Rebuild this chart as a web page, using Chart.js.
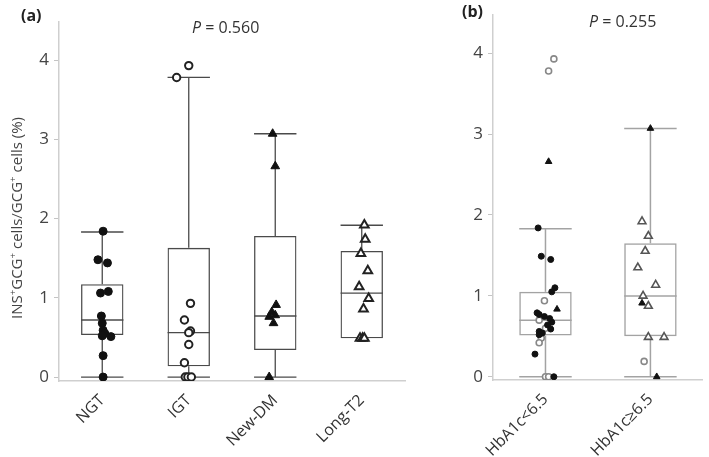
<!DOCTYPE html>
<html>
<head>
<meta charset="utf-8">
<script src="https://cdn.jsdelivr.net/npm/chart.js@4.4.1/dist/chart.umd.min.js"></script>
<style>
  body { margin: 0; background: #fff; width: 709px; height: 457px; overflow: hidden; position: relative; }
  #wrapA { position: absolute; left: 0; top: 0; width: 412px; height: 457px; }
  #wrapB { position: absolute; left: 412px; top: 0; width: 297px; height: 457px; }
</style>
</head>
<body>
<div id="wrapA"><canvas id="chartA"></canvas></div>
<div id="wrapB"><canvas id="chartB"></canvas></div>
<script>
const yTicks = [0, 1, 2, 3, 4]

// panel (a): box summary per group
const groupsA = ['NGT', 'IGT', 'New-DM', 'Long-T2']
const minA = [0, 0, 0, 0.49]
const q1A = [0.53, 0.135, 0.34, 0.49]
const medA = [0.72, 0.56, 0.77, 1.06]
const q3A = [1.17, 1.63, 1.78, 1.59]
const maxA = [1.83, 3.78, 3.07, 1.915]

// panel (a): individual values (jitter = offset in category widths)
const ngtVals = [1.84, 1.48, 1.44, 1.08, 1.06, 0.77, 0.68, 0.59, 0.55, 0.52, 0.51, 0.27, 0]
const ngtJit = [0.01, -0.05, 0.06, 0.07, -0.02, -0.01, 0, 0.01, 0.03, 0, 0.1, 0.01, 0.01]
const igtVals = [3.93, 3.78, 0.93, 0.72, 0.58, 0.56, 0.41, 0.18, 0, 0, 0]
const igtJit = [0, -0.14, 0.02, -0.05, 0.02, 0, 0, -0.05, -0.04, -0.01, 0.03]
const newDmVals = [3.07, 2.66, 0.91, 0.82, 0.78, 0.76, 0.68, 0]
const newDmJit = [-0.03, 0, 0.01, -0.04, 0, -0.07, -0.02, -0.07]
const longT2Vals = [1.92, 1.74, 1.56, 1.34, 1.14, 0.99, 0.86, 0.49, 0.49, 0.49]
const longT2Jit = [0.03, 0.04, -0.01, 0.07, -0.03, 0.08, 0.02, -0.02, 0.01, 0.03]

// panel (b): box summary per group
const groupsB = ['HbA1c<6.5', 'HbA1c≥6.5']
const minB = [0, 0]
const q1B = [0.51, 0.50]
const medB = [0.70, 1.0]
const q3B = [1.05, 1.65]
const maxB = [1.83, 3.07]

// panel (b): individual values
const lowDotVals = [1.84, 1.49, 1.45, 1.10, 1.05, 0.79, 0.77, 0.745, 0.72, 0.675, 0.64, 0.59, 0.56, 0.54, 0.52, 0.28, 0]
const lowDotJit = [-0.07, -0.04, 0.05, 0.09, 0.06, -0.08, -0.06, -0.01, 0.04, 0.06, 0.02, 0.05, -0.06, -0.03, -0.06, -0.1, 0.08]
const lowCircleVals = [3.93, 3.78, 0.94, 0.70, 0.60, 0.48, 0.42, 0, 0]
const lowCircleJit = [0.08, 0.03, -0.01, -0.06, 0, -0.04, -0.06, 0, 0.03]
const lowTriVals = [2.66, 0.835]
const lowTriJit = [0.03, 0.11]
const highOpenTriVals = [1.92, 1.74, 1.555, 1.35, 1.135, 1.0, 0.875, 0.49, 0.49]
const highOpenTriJit = [-0.08, -0.02, -0.05, -0.12, 0.05, -0.07, -0.02, -0.02, 0.13]
const highCircleVals = [0.19]
const highCircleJit = [-0.06]
const highTriVals = [3.07, 0.91, 0]
const highTriJit = [0, -0.08, 0.06]

const FONT = '"Open Sans", "Noto Sans", sans-serif'

function pts(group, vals, jit) {
  return vals.map((v, k) => ({ x: group + jit[k], y: v }))
}

function points(data, style, radius, fill, stroke, width) {
  return {
    type: 'scatter', xAxisID: 'x2', yAxisID: 'y', order: 0, data: data,
    pointStyle: style, pointRadius: radius, pointHoverRadius: radius,
    pointBackgroundColor: fill, pointBorderColor: stroke, pointBorderWidth: width
  }
}

// draws a run of text pieces, pieces with sup=true are raised and smaller
function drawRich(ctx, parts, cx, cy, size, color) {
  let total = 0
  parts.forEach(p => {
    ctx.font = (p.sup ? size * 0.65 : size) + 'px ' + FONT
    p.w = ctx.measureText(p.t).width
    total += p.w
  })
  let x = cx - total / 2
  ctx.fillStyle = color
  ctx.textBaseline = 'alphabetic'
  parts.forEach(p => {
    ctx.font = (p.sup ? size * 0.65 : size) + 'px ' + FONT
    ctx.fillText(p.t, x, cy - (p.sup ? size * 0.42 : 0))
    x += p.w
  })
}

function drawP(ctx, x, y, txt) {
  ctx.fillStyle = '#333'
  ctx.textBaseline = 'alphabetic'
  ctx.font = 'italic 16px ' + FONT
  ctx.fillText('P', x, y)
  const w = ctx.measureText('P').width
  ctx.font = '16px ' + FONT
  ctx.fillText(' = ' + txt, x + w, y)
}

function makeChart(id, o) {
  const boxLines = {
    id: 'boxLines',
    beforeDatasetsDraw(chart) {
      const ctx = chart.ctx, x = chart.scales.x2, y = chart.scales.y
      const seg = (x1, y1, x2, y2) => { ctx.beginPath(); ctx.moveTo(x1, y1); ctx.lineTo(x2, y2); ctx.stroke() }
      ctx.save()
      ctx.strokeStyle = o.line
      ctx.lineWidth = o.lineWidth
      o.labels.forEach((lab, i) => {
        const c = x.getPixelForValue(i)
        const l = x.getPixelForValue(i - o.half)
        const r = x.getPixelForValue(i + o.half)
        seg(c, y.getPixelForValue(o.q3[i]), c, y.getPixelForValue(o.max[i]))
        seg(c, y.getPixelForValue(o.min[i]), c, y.getPixelForValue(o.q1[i]))
        seg(l, y.getPixelForValue(o.max[i]), r, y.getPixelForValue(o.max[i]))
        if (o.min[i] < o.q1[i]) seg(l, y.getPixelForValue(o.min[i]), r, y.getPixelForValue(o.min[i]))
        seg(l, y.getPixelForValue(o.med[i]), r, y.getPixelForValue(o.med[i]))
      })
      ctx.restore()
    }
  }
  const texts = {
    id: 'texts',
    afterDraw(chart) {
      const ctx = chart.ctx
      ctx.save()
      o.draw(ctx)
      ctx.restore()
    }
  }

  return new Chart(document.getElementById(id), {
    type: 'bar',
    data: {
      labels: o.labels,
      datasets: [{
        type: 'bar', xAxisID: 'x', yAxisID: 'y', order: 1, grouped: false,
        data: o.q1.map((v, i) => [v, o.q3[i]]),
        backgroundColor: 'rgba(255,255,255,0)',
        borderColor: o.line, borderWidth: o.lineWidth, borderSkipped: false,
        barPercentage: o.half * 2, categoryPercentage: 1
      }].concat(o.points)
    },
    options: {
      responsive: true,
      maintainAspectRatio: false,
      animation: false,
      layout: { padding: { top: o.top, right: o.right, left: 0, bottom: 0 } },
      plugins: { legend: { display: false }, tooltip: { enabled: false } },
      scales: {
        x: {
          type: 'category', offset: true,
          grid: { display: false },
          border: { color: '#cfcfcf', width: 1.5 },
          ticks: { color: '#333', font: { family: FONT, size: 16 }, minRotation: 45, maxRotation: 45, padding: 2 },
          afterFit: s => { s.height = o.bottom }
        },
        x2: { type: 'linear', display: false, offset: false, min: -0.5, max: o.labels.length - 0.5 },
        y: {
          type: 'linear', min: o.ymin, max: o.ymax,
          afterBuildTicks: s => { s.ticks = yTicks.map(v => ({ value: v })) },
          grid: { drawOnChartArea: false, tickLength: 5, color: '#c4c4c4' },
          border: { color: '#cfcfcf', width: 1.5 },
          ticks: { color: '#444', font: { family: FONT, size: 17 }, padding: 5 },
          afterFit: s => { s.width = o.left }
        }
      }
    },
    plugins: [boxLines, texts]
  })
}

makeChart('chartA', {
  labels: groupsA, min: minA, q1: q1A, med: medA, q3: q3A, max: maxA,
  half: 0.245, line: '#4a4a4a', lineWidth: 1.3,
  top: 22, right: 2, bottom: 76, left: 59, ymin: -0.05, ymax: 4.48,
  points: [
    points(pts(0, ngtVals, ngtJit), 'circle', 4, '#111', '#111', 1),
    points(pts(1, igtVals, igtJit), 'circle', 3.7, '#fff', '#222', 2),
    points(pts(2, newDmVals, newDmJit), 'triangle', 5, '#111', '#111', 1),
    points(pts(3, longT2Vals, longT2Jit), 'triangle', 5, '#fff', '#222', 2)
  ],
  draw(ctx) {
    ctx.fillStyle = '#222'
    ctx.font = 'bold 16px ' + FONT
    ctx.textBaseline = 'alphabetic'
    ctx.fillText('(a)', 21, 21)
    drawP(ctx, 192, 33, '0.560')
    ctx.translate(22, 218)
    ctx.rotate(-Math.PI / 2)
    drawRich(ctx, [
      { t: 'INS' }, { t: '+', sup: true }, { t: 'GCG' }, { t: '+', sup: true },
      { t: ' cells/GCG' }, { t: '+', sup: true }, { t: ' cells (%)' }
    ], 0, 0, 15, '#444')
  }
})

makeChart('chartB', {
  labels: groupsB, min: minB, q1: q1B, med: medB, q3: q3B, max: maxB,
  half: 0.25, line: '#a3a3a3', lineWidth: 1.5,
  top: 15, right: 0, bottom: 77, left: 81, ymin: -0.04, ymax: 4.47,
  points: [
    points(pts(0, lowDotVals, lowDotJit), 'circle', 3, '#111', '#111', 1),
    points(pts(0, lowCircleVals, lowCircleJit), 'circle', 3, '#fff', '#888', 1.6),
    points(pts(0, lowTriVals, lowTriJit), 'triangle', 3.8, '#111', '#111', 1),
    points(pts(1, highOpenTriVals, highOpenTriJit), 'triangle', 4.5, '#fff', '#555', 1.6),
    points(pts(1, highCircleVals, highCircleJit), 'circle', 3, '#fff', '#888', 1.6),
    points(pts(1, highTriVals, highTriJit), 'triangle', 3.8, '#111', '#111', 1)
  ],
  draw(ctx) {
    ctx.fillStyle = '#222'
    ctx.font = 'bold 16px ' + FONT
    ctx.textBaseline = 'alphabetic'
    ctx.fillText('(b)', 50, 17)
    drawP(ctx, 177, 27, '0.255')
  }
})
</script>
</body>
</html>
